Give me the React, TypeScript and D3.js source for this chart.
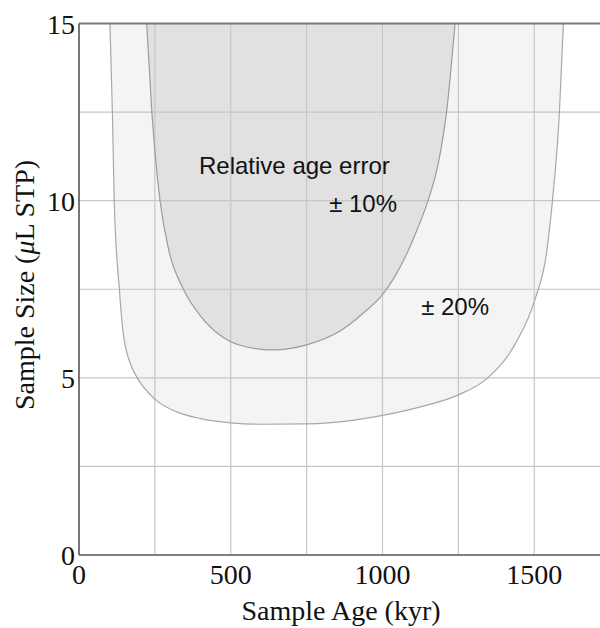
import React from "react";
import * as d3 from "d3";

// Contour of ±20% relative age error: [age (kyr), sample size (µL STP)]
const outerAge = [102, 110, 116, 133, 146, 174, 192, 250, 322, 400, 500, 600, 750, 900, 1000, 1125, 1250, 1347, 1440, 1502, 1540, 1560, 1583, 1596];
const outerSize = [15, 12.5, 10, 7.5, 6.24, 5.3, 5.0, 4.4, 4.04, 3.85, 3.73, 3.69, 3.7, 3.8, 3.94, 4.18, 4.52, 5.0, 6.0, 7.2, 8.5, 10, 12.5, 15];

// Contour of ±10% relative age error
const innerAge = [223, 240, 267, 296, 344, 400, 465, 530, 639, 750, 860, 940, 1000, 1040, 1080, 1115, 1150, 1185, 1211, 1239];
const innerSize = [15, 12.5, 10, 8.6, 7.5, 6.75, 6.2, 5.92, 5.79, 5.93, 6.32, 6.85, 7.35, 7.85, 8.5, 9.2, 10, 11.1, 12.5, 15];

const xTicks = [0, 500, 1000, 1500];
const yTicks = [0, 5, 10, 15];
const xGrid = [250, 500, 750, 1000, 1250, 1500, 1750];
const yGrid = [2.5, 5, 7.5, 10, 12.5];

export default function App() {
  const W = 600, H = 628;
  const x = d3.scaleLinear().domain([0, 1750]).range([79, 79 + 1750 * 0.3035]);
  const y = d3.scaleLinear().domain([0, 15]).range([555, 23.5]);
  const line = d3
    .line<[number, number]>()
    .x((d) => x(d[0]))
    .y((d) => y(d[1]))
    .curve(d3.curveMonotoneX);
  const outer: [number, number][] = outerAge.map((a, i) => [a, outerSize[i]]);
  const inner: [number, number][] = innerAge.map((a, i) => [a, innerSize[i]]);
  const outerPath = line(outer) as string;
  const innerPath = line(inner) as string;
  const x0 = x(0), x1 = x(1750), yTop = y(15), yBot = y(0);
  const serif = "Liberation Serif, Times New Roman, serif";
  const sans = "Liberation Sans, Arial, sans-serif";
  return (
    <svg width={W} height={H} style={{ position: "absolute", left: 0, top: 0, display: "block", background: "#fff" }}>
      <defs>
        <clipPath id="plot">
          <rect x={x0} y={yTop} width={x1 - x0} height={yBot - yTop} />
        </clipPath>
      </defs>
      <g clipPath="url(#plot)">
        <path d={outerPath + "Z"} fill="#f4f4f4" stroke="none" />
        <path d={innerPath + "Z"} fill="#e1e1e1" stroke="none" />
        {xGrid.map((v) => (
          <line key={"gx" + v} x1={x(v)} x2={x(v)} y1={yTop} y2={yBot} stroke="#c6c6c6" strokeWidth={1.2} />
        ))}
        {yGrid.map((v) => (
          <line key={"gy" + v} x1={x0} x2={x1} y1={y(v)} y2={y(v)} stroke="#c6c6c6" strokeWidth={1.2} />
        ))}
        <path d={outerPath} fill="none" stroke="#a8a8a8" strokeWidth={1.2} />
        <path d={innerPath} fill="none" stroke="#9c9c9c" strokeWidth={1.2} />
      </g>
      {/* axes */}
      <line x1={x0} x2={W} y1={yTop} y2={yTop} stroke="#777" strokeWidth={2} />
      <line x1={x0} x2={W} y1={yBot} y2={yBot} stroke="#555" strokeWidth={1.6} />
      <line x1={x0} x2={x0} y1={yTop} y2={yBot} stroke="#555" strokeWidth={1.6} />
      {/* tick labels */}
      {xTicks.map((v) => (
        <text key={"tx" + v} x={x(v)} y={584} textAnchor="middle" fontFamily={serif} fontSize={28} fill="#111">
          {v}
        </text>
      ))}
      {yTicks.map((v) => (
        <text key={"ty" + v} x={75} y={y(v) + 10} textAnchor="end" fontFamily={serif} fontSize={28} fill="#111">
          {v}
        </text>
      ))}
      {/* axis titles */}
      <text x={341} y={620} textAnchor="middle" fontFamily={serif} fontSize={28} fill="#111">
        Sample Age (kyr)
      </text>
      <text
        transform={`translate(34, 285) rotate(-90)`}
        textAnchor="middle"
        fontFamily={serif}
        fontSize={28}
        fill="#111"
      >
        Sample Size (<tspan fontStyle="italic">μ</tspan>L STP)
      </text>
      {/* annotations */}
      <text x={199} y={174} fontFamily={sans} fontSize={24} fill="#111">
        Relative age error
      </text>
      <text x={397} y={212} textAnchor="end" fontFamily={sans} fontSize={24} fill="#111">
        ± 10%
      </text>
      <text x={489} y={315} textAnchor="end" fontFamily={sans} fontSize={24} fill="#111">
        ± 20%
      </text>
    </svg>
  );
}
